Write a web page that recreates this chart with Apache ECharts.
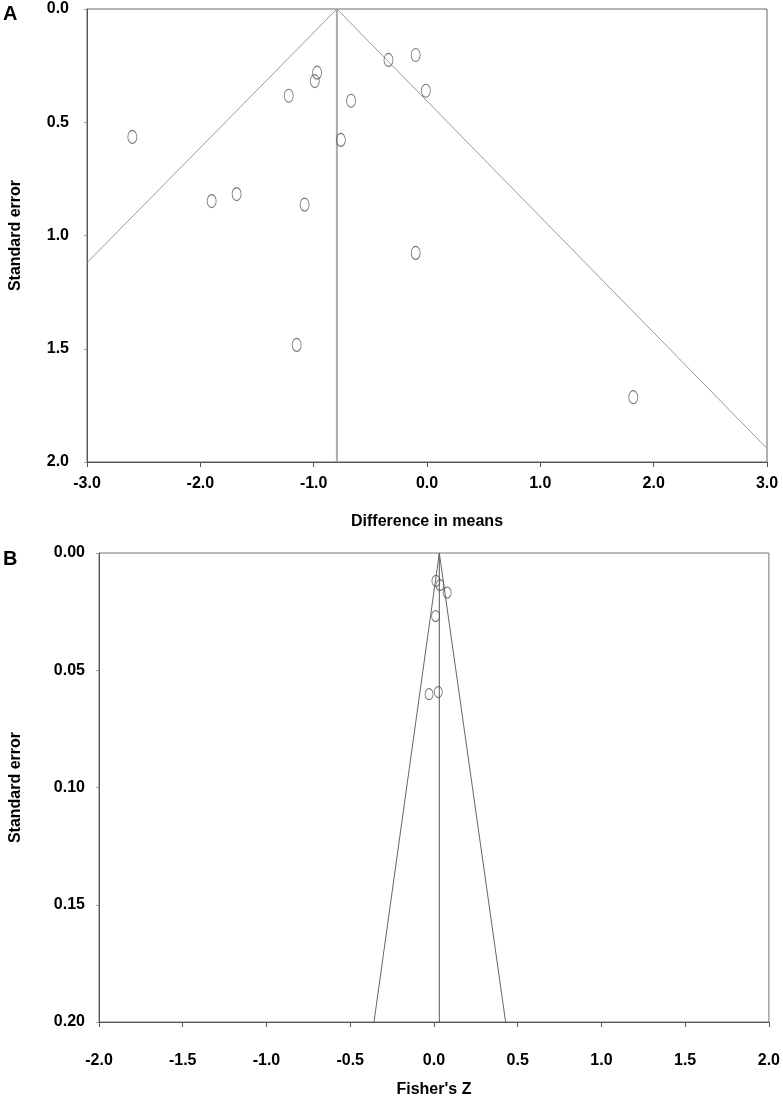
<!DOCTYPE html>
<html>
<head>
<meta charset="utf-8">
<script src="https://cdn.jsdelivr.net/npm/echarts@6/dist/echarts.min.js"></script>
<style>
  html, body { margin: 0; padding: 0; background: #fff; }
  #chart { width: 783px; height: 1104px; }
</style>
</head>
<body>
<div id="chart"></div>
<script>
// panel A: difference in means vs standard error
const diffMeansA = [-2.60, -1.90, -1.68, -1.08, -1.22, -0.97, -0.99, -0.67, -0.76, -0.34, -0.10, -0.01, -0.10, -1.15, 1.82]
const stdErrA = [0.565, 0.848, 0.817, 0.864, 0.383, 0.281, 0.318, 0.405, 0.578, 0.225, 0.203, 0.361, 1.077, 1.483, 1.714]
const meanA = -0.795
const funnelLeftA = [[-3.0, 1.12], [-0.795, 0]]
const funnelRightA = [[-0.795, 0], [3.0, 1.94]]
const xTicksA = [-3, 3, 1]   // min, max, step
const yTicksA = [0, 2, 0.5]

// panel B: Fisher's Z vs standard error
const fisherZB = [0.012, 0.036, 0.079, 0.010, -0.029, 0.026]
const stdErrB = [0.0119, 0.0137, 0.0169, 0.0269, 0.0602, 0.0593]
const meanB = 0.032
const funnelLeftB = [[-0.358, 0.2], [0.032, 0]]
const funnelRightB = [[0.032, 0], [0.428, 0.2]]
const xTicksB = [-2, 2, 0.5]
const yTicksB = [0, 0.2, 0.05]

const font = 'Liberation Sans, Arial, sans-serif'
const axisColor = '#555'

function zip(xs, ys) {
  return xs.map((x, i) => [x, ys[i]])
}

function xAxisFor(idx, ticks, digits, margin, name, nameGap) {
  return {
    gridIndex: idx,
    type: 'value',
    min: ticks[0],
    max: ticks[1],
    interval: ticks[2],
    name: name,
    nameLocation: 'middle',
    nameGap: nameGap,
    nameTextStyle: { fontFamily: font, fontWeight: 'bold', fontSize: 16, color: '#000' },
    axisLine: { show: true, onZero: false, lineStyle: { color: axisColor, width: 1 } },
    axisTick: { show: true, length: 5, lineStyle: { color: axisColor } },
    axisLabel: {
      margin: margin,
      fontFamily: font,
      fontWeight: 'bold',
      fontSize: 16,
      color: '#000',
      formatter: (v) => v.toFixed(digits),
    },
    splitLine: { show: false },
  }
}

function yAxisFor(idx, ticks, digits, margin, nameGap, shift) {
  return {
    gridIndex: idx,
    type: 'value',
    inverse: true,
    min: ticks[0],
    max: ticks[1],
    interval: ticks[2],
    name: 'Standard error',
    nameLocation: 'middle',
    nameGap: nameGap,
    nameTextStyle: { fontFamily: font, fontWeight: 'bold', fontSize: 16, color: '#000' },
    axisLine: { show: true, onZero: false, lineStyle: { color: axisColor, width: 1 } },
    axisTick: { show: true, length: 3, lineStyle: { color: '#999' } },
    axisLabel: {
      margin: margin,
      padding: [shift, 0, 0, 0],
      fontFamily: font,
      fontWeight: 'bold',
      fontSize: 16,
      color: '#000',
      formatter: (v) => v.toFixed(digits),
    },
    splitLine: { show: false },
  }
}

function lineSeries(idx, data, color, width) {
  return {
    type: 'line',
    xAxisIndex: idx,
    yAxisIndex: idx,
    data: data,
    symbol: 'none',
    silent: true,
    lineStyle: { color: color, width: width },
  }
}

function scatterSeries(idx, data, size) {
  return {
    type: 'scatter',
    xAxisIndex: idx,
    yAxisIndex: idx,
    data: data,
    symbol: 'circle',
    symbolSize: size,
    itemStyle: { color: 'rgba(0,0,0,0)', borderColor: '#555', borderWidth: 1 },
    z: 5,
  }
}

const chart = echarts.init(document.getElementById('chart'), null, { renderer: 'canvas' })

const option = {
  animation: false,
  backgroundColor: '#fff',
  grid: [
    { left: 81, top: 9, width: 686, height: 453, show: true, borderColor: '#666', borderWidth: 1 },
    { left: 93, top: 553, width: 677, height: 469, show: true, borderColor: '#777', borderWidth: 1 },
  ],
  xAxis: [
    xAxisFor(0, xTicksA, 1, 14, 'Difference in means', 52),
    xAxisFor(1, xTicksB, 1, 31, "Fisher's Z", 60),
  ],
  yAxis: [
    yAxisFor(0, yTicksA, 1, 18, 63, 0),
    yAxisFor(1, yTicksB, 2, 14, 75, 8),
  ],
  graphic: [
    { type: 'text', left: 3, top: 4, style: { text: 'A', font: 'bold 20px ' + font, fill: '#000' } },
    { type: 'text', left: 3, top: 549, style: { text: 'B', font: 'bold 20px ' + font, fill: '#000' } },
  ],
  series: [
    lineSeries(0, [[meanA, yTicksA[0]], [meanA, yTicksA[1]]], '#aaa', 2),
    lineSeries(0, funnelLeftA, '#999', 1),
    lineSeries(0, funnelRightA, '#999', 1),
    scatterSeries(0, zip(diffMeansA, stdErrA), [9, 13]),
    lineSeries(1, [[meanB, yTicksB[0]], [meanB, yTicksB[1]]], '#555', 1),
    lineSeries(1, funnelLeftB, '#666', 1),
    lineSeries(1, funnelRightB, '#666', 1),
    scatterSeries(1, zip(fisherZB, stdErrB), [8, 11]),
  ],
}

chart.setOption(option)
</script>
</body>
</html>
